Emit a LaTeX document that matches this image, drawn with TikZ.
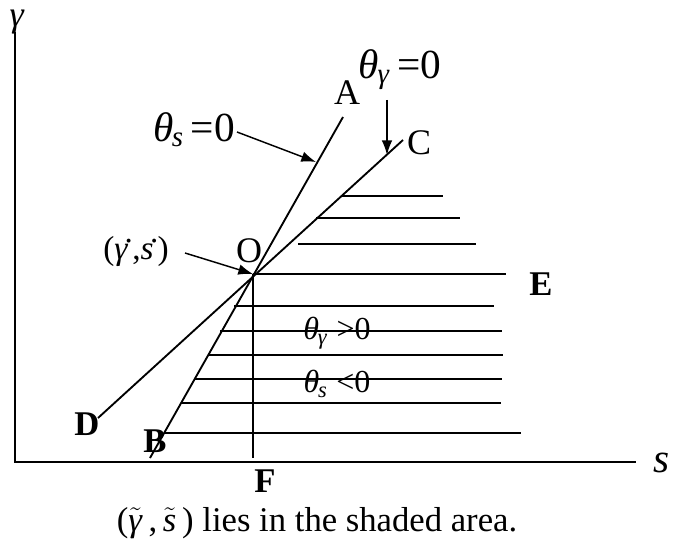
\documentclass[tikz,border=0pt]{standalone}
\usepackage{fontspec}
\setmainfont{Liberation Serif}
\usetikzlibrary{arrows.meta,positioning}

\newcommand{\thsub}[1]{\textit{θ}\kern-0.04em\textsubscript{\textit{#1}}}
\newcommand{\stardot}{\textsuperscript{\kern-0.1em\scalebox{0.7}{•}}}

\tikzset{
  axis/.style={line width=1.4pt},
  locus/.style={line width=1.4pt},
  hatch/.style={line width=1.3pt},
  pointer/.style={line width=1.1pt,-{Latex[length=11pt,width=8pt]}},
  lbl/.style={font=\fontsize{27}{30}\selectfont,inner sep=0pt},
  lblb/.style={font=\fontsize{26}{29}\selectfont\bfseries,inner sep=0pt},
  biglbl/.style={font=\fontsize{31}{34}\selectfont,inner sep=0pt},
  midlbl/.style={font=\fontsize{24}{27}\selectfont,inner sep=0pt},
}

\begin{document}
\begin{tikzpicture}[x=0.75pt,y=-0.75pt]
\useasboundingbox (0,0) rectangle (674,545);

%Axes
\coordinate (orig) at (15,462);
\coordinate (ytop) at (15,32);
\coordinate (xend) at (636,462);
\draw[axis] (ytop) -- (orig) -- (xend);
\node[lbl] (gam) at (17,22) {\textit{γ}};
\node[biglbl] (s) at (662,463) {\textit{s}};

%Loci through O
\coordinate (O) at (253,274);
\coordinate (A) at (343,117);
\coordinate (B) at (150,458);
\coordinate (C) at (403,140);
\coordinate (D) at (98,418);
\draw[locus] (A) -- (B);
\draw[locus] (C) -- (D);
\draw[locus] (O) -- (O |- 0,458) coordinate (Fend);

%Shaded area
\foreach \y/\xa/\xb in {196/342/443, 218/316/460, 244/298/476, 274/253/506,
                        306/234/494, 331/220/502, 355/208/503, 379/195/502,
                        403/182/501, 433/165/521}
  \draw[hatch] (\xa,\y) -- (\xb,\y);

%Point labels
\node[lbl]  (lA) at (347,93)  {A};
\node[lbl]  (lC) at (419,143) {C};
\node[lbl]  (lO) at (249,251) {O};
\node[lblb] (lE) at (541,284) {E};
\node[lblb] (lD) at (87,424)  {D};
\node[lblb] (lB) at (155,441) {B};
\node[lblb] (lF) at (265,481) {F};

%Curve labels and pointers
\node[biglbl] (ths) at (194,130) {\thsub{s}\,=0};
\node[biglbl] (thg) at (400,70)  {\thsub{γ}\,=0};
\node[midlbl,font=\fontsize{25}{28}\selectfont] (star) at (136,251)
  {(\textit{γ}\stardot,\textit{s}\stardot)};
\coordinate (onAB) at (316,162);
\coordinate (onCD) at (387,155);
\draw[pointer] (237,132) coordinate (p1) -- (onAB);
\draw[pointer] (387,100) coordinate (p2) -- (onCD);
\draw[pointer] (185,253) coordinate (p3) -- (O);

%Region labels
\node[midlbl] (pos) at (337,333) {\thsub{γ}\;>0};
\node[midlbl] (neg) at (337,384) {\thsub{s}\;<0};

%Caption
\node[font=\fontsize{26}{29}\selectfont,inner sep=0pt] (cap) at (317,523)
  {($\tilde{\mbox{\textit{γ}}}$\,,\,$\tilde{\mbox{\textit{s}}}$\,) lies in the shaded area.};
\end{tikzpicture}
\end{document}
